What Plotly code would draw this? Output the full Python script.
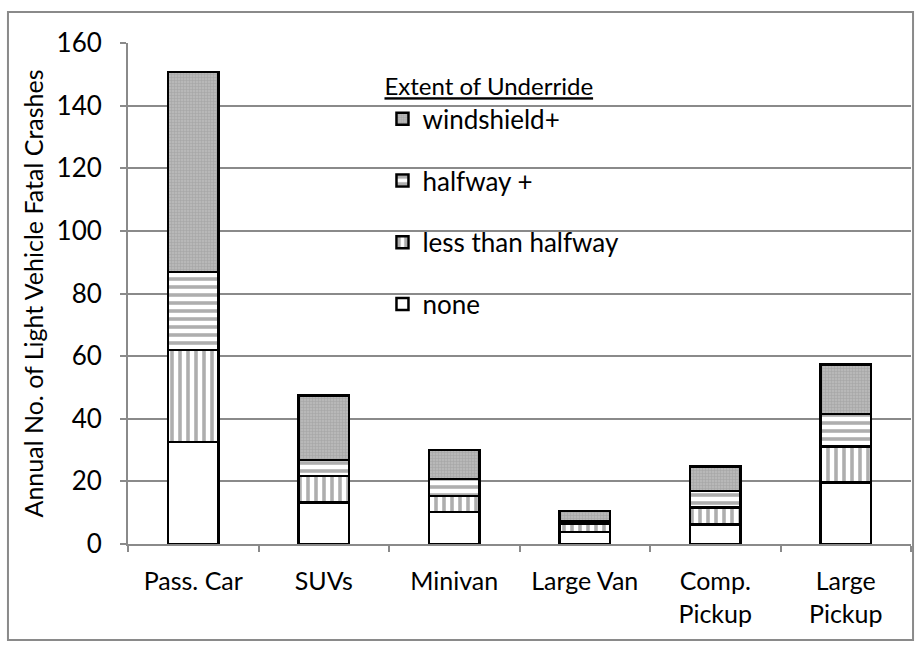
import plotly.graph_objects as go

categories = ["Pass. Car", "SUVs", "Minivan", "Large Van", "Comp.<br>Pickup", "Large<br>Pickup"]
none_vals = [32.6, 13.3, 10.3, 3.9, 6.3, 19.7]
less_half_vals = [29.4, 8.4, 5.0, 2.7, 5.4, 11.4]
halfway_vals = [24.9, 5.1, 5.4, 0.6, 5.3, 10.4]
windshield_vals = [63.8, 20.7, 9.3, 3.3, 7.7, 15.9]
y_ticks = [0, 20, 40, 60, 80, 100, 120, 140, 160]

FONT = "Lato, Open Sans, sans-serif"
series = [
    ("none", none_vals, dict(shape="", bgcolor="white", fgcolor="white"), 4),
    ("less than halfway", less_half_vals, dict(shape="|", bgcolor="white", fgcolor="#5e5e5e", size=8, solidity=0.45), 3),
    ("halfway +", halfway_vals, dict(shape="-", bgcolor="white", fgcolor="#5e5e5e", size=8, solidity=0.45), 2),
    ("windshield+", windshield_vals, dict(shape="+", bgcolor="#b8b8b8", fgcolor="#8c8c8c", size=3, solidity=0.3), 1),
]

fig = go.Figure()
for i, (name, vals, pat, rank) in enumerate(series):
    fig.add_trace(go.Bar(
        x=categories, y=vals, name=name, width=0.39,
        legendgroup=f"g{i}", legendrank=rank,
        marker=dict(color="white", pattern=pat, line=dict(color="black", width=2.5)),
    ))

fig.update_layout(
    barmode="stack",
    width=921, height=648,
    margin=dict(l=128, r=10, t=43, b=104),
    paper_bgcolor="white", plot_bgcolor="white",
    font=dict(family=FONT, size=25, color="black"),
    showlegend=True,
    legend=dict(
        x=0.325, y=0.958, xanchor="left", yanchor="top",
        traceorder="grouped", tracegroupgap=25,
        title=dict(text="<u>Extent of Underride</u>", font=dict(size=24)),
        font=dict(size=26), bgcolor="rgba(0,0,0,0)",
    ),
    xaxis=dict(
        showline=True, linecolor="#8a8a8a", linewidth=2,
        ticks="outside", tickson="boundaries", ticklen=6, tickcolor="#8a8a8a", tickwidth=2,
        showgrid=False, tickfont=dict(size=25), automargin=False, ticklabelstandoff=14,
    ),
    yaxis=dict(
        range=[0, 160], tickvals=y_ticks, showline=True, linecolor="#8a8a8a", linewidth=2,
        ticks="outside", ticklen=6, tickcolor="#8a8a8a", tickwidth=2,
        showgrid=True, gridcolor="#8a8a8a", gridwidth=2,
        title=dict(text="Annual No. of Light Vehicle Fatal Crashes", font=dict(size=25), standoff=6),
        tickfont=dict(size=26), zeroline=False, automargin=False, ticklabelstandoff=13,
    ),
    shapes=[dict(type="rect", xref="paper", yref="paper",
                 x0=-0.1533, x1=1.0026, y0=-0.1916, y1=1.0619,
                 line=dict(color="#8a8a8a", width=2), fillcolor="rgba(0,0,0,0)", layer="below")],
)

fig.write_html("out.html", config={"displayModeBar": False},
               post_script="document.body.style.margin='0';")
